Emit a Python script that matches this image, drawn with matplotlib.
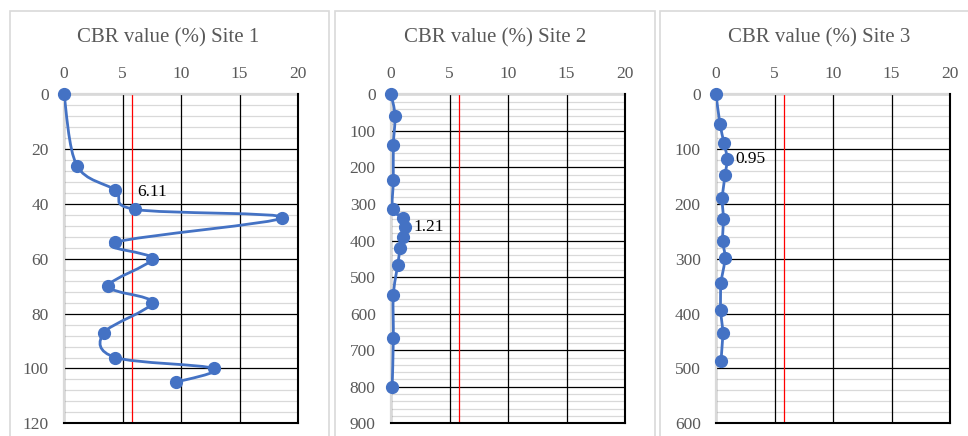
import numpy as np
import matplotlib
matplotlib.use("Agg")
import matplotlib.pyplot as plt
from matplotlib.path import Path
from matplotlib.patches import PathPatch, Rectangle

# Site 1: depth and CBR value (%)
depth_1 = [0, 26, 35, 42, 45, 54, 60, 70, 76, 87, 96, 100, 105]
cbr_1 = [0, 1.1, 4.4, 6.11, 18.66, 4.4, 7.5, 3.8, 7.5, 3.4, 4.4, 12.8, 9.6]

# Site 2
depth_2 = [0, 58, 140, 234, 314, 339, 364, 390, 421, 467, 550, 668, 801]
cbr_2 = [0, 0.34, 0.2, 0.2, 0.15, 1.05, 1.21, 1.05, 0.8, 0.57, 0.2, 0.2, 0.1]

# Site 3
depth_3 = [0, 54, 88, 118, 148, 190, 227, 267, 299, 345, 393, 435, 486]
cbr_3 = [0, 0.34, 0.68, 0.95, 0.77, 0.54, 0.63, 0.57, 0.77, 0.43, 0.4, 0.57, 0.43]

site_names = ["Site 1", "Site 2", "Site 3"]
depth_max = [120, 900, 600]
depth_major = [20, 100, 100]
label_index = [3, 6, 3]          # point carrying a data label
limit_cbr = 5.85                 # red reference line

BLUE = "#4472C4"
GRAY_TXT = "#595959"
GRID_LIGHT = "#d9d9d9"

plt.rcParams["font.family"] = ["Liberation Serif", "DejaVu Serif"]


def smooth_path(x, y):
    # Catmull-Rom style smoothing, similar to Excel's "smoothed line"
    pts = np.column_stack([x, y]).astype(float)
    verts, codes = [pts[0]], [Path.MOVETO]
    n = len(pts)
    for i in range(n - 1):
        p0 = pts[i - 1] if i > 0 else pts[i]
        p1, p2 = pts[i], pts[i + 1]
        p3 = pts[i + 2] if i + 2 < n else pts[i + 1]
        verts += [p1 + (p2 - p0) / 6, p2 - (p3 - p1) / 6, p2]
        codes += [Path.CURVE4] * 3
    return Path(verts, codes)


W, H = 968, 436
fig = plt.figure(figsize=(W / 100, H / 100), dpi=100)

ax_left = [64, 391, 716]
ax_w = 234
ax_top, ax_bot = 94.3, 423.3
box_x = [(10, 329), (335, 655), (660, 1010)]
title_x = [168, 495, 819.5]

series = [(cbr_1, depth_1), (cbr_2, depth_2), (cbr_3, depth_3)]

for k, (cbr, depth) in enumerate(series):
    # panel frame, drawn behind everything
    x0, x1 = box_x[k]
    frame = Rectangle((x0 / W, -0.05), (x1 - x0) / W, 1.05 - 11 / H,
                      transform=fig.transFigure, fill=False,
                      edgecolor=GRID_LIGHT, lw=1.2, zorder=-1)
    fig.patches.append(frame)
    fig.text(title_x[k] / W, 1 - 38 / H, f"CBR value (%) {site_names[k]}",
             ha="center", va="center", fontsize=15, color=GRAY_TXT)

    ax = fig.add_axes([ax_left[k] / W, 1 - ax_bot / H, ax_w / W, (ax_bot - ax_top) / H])

    ax.axvline(limit_cbr, color="red", lw=0.9, zorder=2)
    ax.add_patch(PathPatch(smooth_path(cbr, depth), fill=False, edgecolor=BLUE,
                           lw=2.0, zorder=3, capstyle="round", joinstyle="round"))
    ax.plot(cbr, depth, "o", ms=8.5, color=BLUE, zorder=4, clip_on=False)

    i = label_index[k]
    offset = (2, 17) if k == 0 else (8, 0)
    ax.annotate(f"{cbr[i]:.2f}", xy=(cbr[i], depth[i]), xytext=offset,
                textcoords="offset pixels", ha="left", va="center",
                fontsize=12.5, color="black", zorder=5)

    ax.xaxis.tick_top()
    ax.set_xticks(range(0, 21, 5))
    ax.set_yticks(np.arange(0, depth_max[k] + 1, depth_major[k]))
    ax.set_yticks(np.arange(0, depth_max[k] + 1, depth_major[k] / 5), minor=True)
    ax.grid(which="major", color="black", lw=0.9)
    ax.grid(which="minor", axis="y", color=GRID_LIGHT, lw=0.9)
    ax.set_xlim(0, 20)
    ax.set_ylim(depth_max[k], 0)
    # vertical black gridlines drawn above the light horizontal ones
    ax.yaxis.set_zorder(1.4)
    ax.xaxis.set_zorder(1.6)
    ax.tick_params(which="both", length=0, labelsize=12.5, colors=GRAY_TXT)
    ax.tick_params(axis="y", pad=11)
    ax.tick_params(axis="x", pad=9)
    for s in ("right", "bottom"):
        ax.spines[s].set_color("black")
        ax.spines[s].set_linewidth(1.5)
        ax.spines[s].set_zorder(3.5)
    for s in ("left", "top"):
        ax.spines[s].set_color(GRID_LIGHT)
        ax.spines[s].set_linewidth(1.6)

fig.savefig("out.png", dpi=100)
plt.close(fig)
